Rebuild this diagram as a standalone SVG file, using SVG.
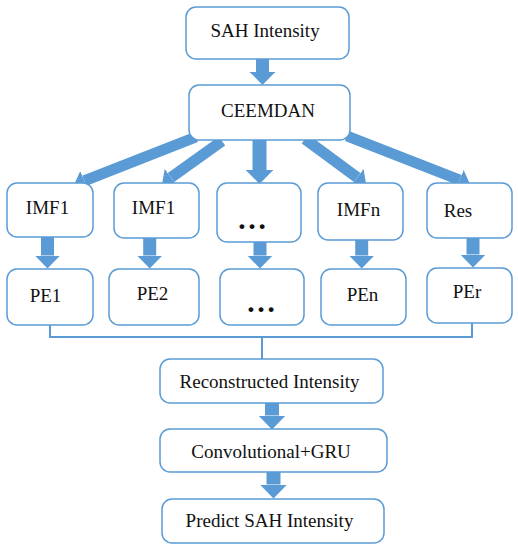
<svg xmlns="http://www.w3.org/2000/svg" width="518" height="550" viewBox="0 0 518 550">
<style>
.box{fill:#fff;stroke:#5B9BD5;stroke-width:1.5}
.t{font-family:"Liberation Serif","Times New Roman",serif;font-size:19px;fill:#111;text-anchor:middle}
.dots{font-family:"Liberation Serif","Times New Roman",serif;font-size:30px;font-weight:bold;fill:#111;text-anchor:middle}
.arr{stroke:#5B9BD5;fill:none;marker-end:url(#head)}
.br{stroke:#5B9BD5;stroke-width:2;fill:none}
</style>
<defs>
<marker id="head" markerUnits="strokeWidth" markerWidth="1" markerHeight="1.95" viewBox="0 0 10 19.5" refX="0" refY="9.75" orient="auto">
<path d="M0,0 L10,9.75 L0,19.5 z" fill="#5B9BD5"/>
</marker>
</defs>
<rect width="518" height="550" fill="#fff"/>
<g id="connectors">
<line class="arr" x1="262.5" y1="59" x2="262.5" y2="72" stroke-width="13"/>
<line class="arr" x1="196" y1="137" x2="84.2" y2="180.9" stroke-width="11"/>
<line class="arr" x1="222" y1="141" x2="171" y2="177.5" stroke-width="11"/>
<line class="arr" x1="259.5" y1="140" x2="259.5" y2="170" stroke-width="14"/>
<line class="arr" x1="305" y1="139" x2="357.2" y2="177.5" stroke-width="11"/>
<line class="arr" x1="347" y1="136" x2="459.7" y2="180" stroke-width="11"/>
<line class="arr" x1="47.5" y1="237" x2="47.5" y2="255.5" stroke-width="13"/>
<line class="arr" x1="149.7" y1="238" x2="149.7" y2="255.5" stroke-width="13"/>
<line class="arr" x1="260" y1="242" x2="260" y2="255.5" stroke-width="13"/>
<line class="arr" x1="361.7" y1="240" x2="361.7" y2="255.5" stroke-width="13"/>
<line class="arr" x1="473" y1="238" x2="473" y2="254.5" stroke-width="13"/>
<path class="br" d="M50,325 V337 H472 V323 M262,337 V359"/>
<line class="arr" x1="272" y1="403" x2="272" y2="415.5" stroke-width="14"/>
<line class="arr" x1="273.5" y1="472" x2="273.5" y2="484.5" stroke-width="14"/>
</g>
<g id="sah"><rect class="box" x="186" y="7" width="163" height="52" rx="10"/><text class="t" x="265" y="37">SAH Intensity</text></g>
<g id="ceemdan"><rect class="box" x="189" y="85" width="161" height="55" rx="10"/><text class="t" x="268" y="117">CEEMDAN</text></g>
<g id="imf1a"><rect class="box" x="7" y="183" width="86" height="54" rx="10"/><text class="t" x="47.5" y="214">IMF1</text></g>
<g id="imf1b"><rect class="box" x="114" y="183" width="85" height="55" rx="10"/><text class="t" x="153.5" y="214">IMF1</text></g>
<g id="imfdots"><rect class="box" x="217" y="183" width="84" height="59" rx="10"/><text class="dots" x="252" y="229">…</text></g>
<g id="imfn"><rect class="box" x="318" y="183" width="85" height="57" rx="10"/><text class="t" x="358.5" y="216">IMFn</text></g>
<g id="res"><rect class="box" x="427" y="183" width="85" height="55" rx="10"/><text class="t" x="458" y="216.5">Res</text></g>
<g id="pe1"><rect class="box" x="7" y="269" width="86" height="56" rx="10"/><text class="t" x="45.5" y="301.5">PE1</text></g>
<g id="pe2"><rect class="box" x="109" y="269" width="90" height="56" rx="10"/><text class="t" x="152.5" y="300">PE2</text></g>
<g id="pedots"><rect class="box" x="220" y="269" width="84" height="56" rx="10"/><text class="dots" x="261" y="312">…</text></g>
<g id="pen"><rect class="box" x="321" y="269" width="85" height="56" rx="10"/><text class="t" x="362.5" y="301">PEn</text></g>
<g id="per"><rect class="box" x="427" y="268" width="85" height="55" rx="10"/><text class="t" x="467" y="298">PEr</text></g>
<g id="recon"><rect class="box" x="160" y="359" width="223" height="44" rx="10"/><text class="t" x="269.5" y="388">Reconstructed Intensity</text></g>
<g id="conv"><rect class="box" x="160" y="429" width="227" height="43" rx="10"/><text class="t" x="271" y="458">Convolutional+GRU</text></g>
<g id="predict"><rect class="box" x="162" y="499" width="222" height="44" rx="10"/><text class="t" x="269.5" y="527">Predict SAH Intensity</text></g>
</svg>
